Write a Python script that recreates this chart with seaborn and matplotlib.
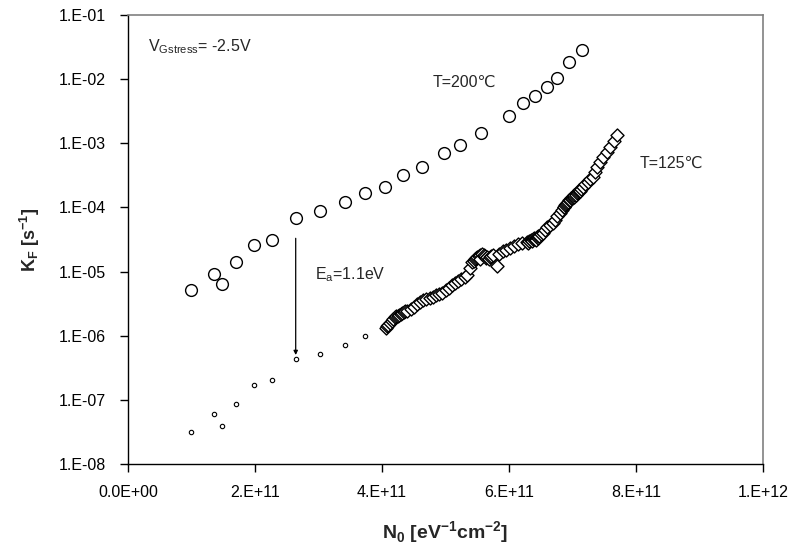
import numpy as np
import pandas as pd
import matplotlib
matplotlib.use("Agg")
import matplotlib.pyplot as plt
import seaborn as sns

# T = 200 C, measured (x in units of 1e11 eV^-1 cm^-2)
n0_200 = [0.987, 1.350, 1.485, 1.706, 1.984, 2.263, 2.641, 3.019, 3.417, 3.732,
          4.052, 4.335, 4.630, 4.976, 5.228, 5.554, 6.000, 6.225, 6.409, 6.603,
          6.751, 6.950, 7.154]
kf_200 = [5.13e-6, 9.2e-6, 6.43e-6, 1.39e-5, 2.63e-5, 3.15e-5, 6.89e-5, 8.67e-5,
          1.20e-4, 1.65e-4, 2.05e-4, 3.23e-4, 4.30e-4, 7.03e-4, 9.27e-4, 1.46e-3,
          2.66e-3, 4.19e-3, 5.51e-3, 7.45e-3, 1.03e-2, 1.87e-2, 2.84e-2]

# extrapolated to 125 C with Ea = 1.1 eV
n0_ext = [0.987, 1.350, 1.485, 1.706, 1.984, 2.263, 2.641, 3.019, 3.417, 3.732]
kf_ext = [3.13e-8, 5.96e-8, 3.92e-8, 8.53e-8, 1.69e-7, 2.02e-7, 4.26e-7, 5.28e-7,
          7.29e-7, 9.93e-7]

# T = 125 C, measured
n0_125 = [4.06, 4.08, 4.10, 4.12, 4.15, 4.17, 4.20, 4.22, 4.25, 4.27, 4.30, 4.32,
          4.35, 4.37, 4.40, 4.45, 4.50, 4.55, 4.60, 4.65, 4.70, 4.75, 4.80, 4.85,
          4.90, 4.95, 5.00, 5.05, 5.10, 5.15, 5.20, 5.25, 5.30, 5.34, 5.38, 5.42,
          5.45, 5.46, 5.48, 5.50, 5.52, 5.54, 5.55, 5.57, 5.60, 5.62, 5.64, 5.66,
          5.68, 5.70, 5.72, 5.75, 5.81, 5.85, 5.91, 5.96, 6.02, 6.08, 6.14, 6.20,
          6.28, 6.30, 6.32, 6.34, 6.36, 6.37, 6.38, 6.40, 6.41, 6.42, 6.43, 6.44,
          6.45, 6.46, 6.48, 6.50, 6.54, 6.57, 6.60, 6.65, 6.69, 6.72, 6.76, 6.80,
          6.83, 6.86, 6.87, 6.88, 6.90, 6.91, 6.93, 6.94, 6.96, 6.97, 6.99, 7.01,
          7.02, 7.03, 7.05, 7.06, 7.07, 7.09, 7.10, 7.11, 7.12, 7.13, 7.17, 7.20,
          7.24, 7.28, 7.32, 7.36, 7.39, 7.44, 7.48, 7.54, 7.59, 7.65, 7.70]
kf_125 = [1.318e-6, 1.413e-6, 1.479e-6, 1.585e-6, 1.698e-6, 1.820e-6, 1.950e-6,
          1.995e-6, 2.042e-6, 2.089e-6, 2.188e-6, 2.291e-6, 2.344e-6, 2.399e-6,
          2.455e-6, 2.570e-6, 2.818e-6, 3.162e-6, 3.388e-6, 3.631e-6, 3.802e-6,
          3.890e-6, 4.074e-6, 4.266e-6, 4.467e-6, 4.677e-6, 5.129e-6, 5.495e-6,
          6.166e-6, 6.607e-6, 7.079e-6, 7.586e-6, 8.318e-6, 8.913e-6, 1.122e-5,
          1.413e-5, 1.479e-5, 1.585e-5, 1.622e-5, 1.698e-5, 1.738e-5, 1.820e-5,
          1.585e-5, 1.862e-5, 1.820e-5, 1.738e-5, 1.622e-5, 1.660e-5, 1.585e-5,
          1.698e-5, 1.738e-5, 1.820e-5, 1.230e-5, 1.905e-5, 2.089e-5, 2.188e-5,
          2.344e-5, 2.512e-5, 2.692e-5, 2.754e-5, 2.884e-5, 2.818e-5, 3.020e-5,
          3.090e-5, 3.162e-5, 3.020e-5, 3.236e-5, 3.311e-5, 3.236e-5, 3.388e-5,
          3.162e-5, 3.467e-5, 3.388e-5, 3.548e-5, 3.631e-5, 3.802e-5, 3.981e-5,
          4.467e-5, 4.898e-5, 5.370e-5, 5.754e-5, 6.457e-5, 7.244e-5, 8.128e-5,
          9.120e-5, 1.000e-4, 1.023e-4, 1.072e-4, 1.122e-4, 1.175e-4, 1.202e-4,
          1.288e-4, 1.318e-4, 1.380e-4, 1.413e-4, 1.445e-4, 1.479e-4, 1.549e-4,
          1.622e-4, 1.585e-4, 1.660e-4, 1.738e-4, 1.778e-4, 1.862e-4, 1.820e-4,
          1.950e-4, 2.089e-4, 2.291e-4, 2.512e-4, 2.754e-4, 2.951e-4, 3.631e-4,
          4.266e-4, 5.129e-4, 6.026e-4, 7.244e-4, 8.710e-4, 1.072e-3, 1.349e-3]

x_ticks = [0, 2e11, 4e11, 6e11, 8e11, 1e12]
x_ticklabels = ["0.0E+00", "2.E+11", "4.E+11", "6.E+11", "8.E+11", "1.E+12"]
y_ticks = [1e-8, 1e-7, 1e-6, 1e-5, 1e-4, 1e-3, 1e-2, 1e-1]
y_ticklabels = ["1.E-08", "1.E-07", "1.E-06", "1.E-05", "1.E-04", "1.E-03",
                "1.E-02", "1.E-01"]

df200 = pd.DataFrame({"n0": np.array(n0_200) * 1e11, "kf": kf_200})
dfext = pd.DataFrame({"n0": np.array(n0_ext) * 1e11, "kf": kf_ext})
df125 = pd.DataFrame({"n0": np.array(n0_125) * 1e11, "kf": kf_125})

sns.set_style("ticks")
plt.rcParams["font.family"] = ["Liberation Sans", "DejaVu Sans"]
plt.rcParams["mathtext.fontset"] = "custom"
plt.rcParams["mathtext.rm"] = "Liberation Sans"
plt.rcParams["mathtext.bf"] = "Liberation Sans:bold"

fig = plt.figure(figsize=(7.96, 5.52), dpi=100)
ax = fig.add_axes([128 / 796, 1 - 464 / 552, 635 / 796, 449 / 552])

sns.scatterplot(data=df125, x="n0", y="kf", marker="D", s=44, facecolor="white",
                edgecolor="black", linewidth=1.0, ax=ax, zorder=3)
sns.scatterplot(data=df200, x="n0", y="kf", marker="o", s=72, facecolor="white",
                edgecolor="black", linewidth=1.0, ax=ax, zorder=3)
sns.scatterplot(data=dfext, x="n0", y="kf", marker="o", s=10, facecolor="white",
                edgecolor="black", linewidth=0.8, ax=ax, zorder=3)

ax.set_yscale("log")
ax.set_xlim(0, 1e12)
ax.set_ylim(1e-8, 1e-1)
ax.set_xticks(x_ticks)
ax.set_xticklabels(x_ticklabels)
ax.set_yticks(y_ticks)
ax.set_yticklabels(y_ticklabels)
ax.minorticks_off()
ax.tick_params(axis="both", direction="out", length=6, width=1, labelsize=11.5,
               colors="black")
ax.tick_params(axis="y", pad=10)
ax.tick_params(axis="x", pad=9)

for side in ["left", "bottom"]:
    ax.spines[side].set_color("black")
    ax.spines[side].set_linewidth(1)
for side in ["top", "right"]:
    ax.spines[side].set_visible(True)
    ax.spines[side].set_color("#808080")
    ax.spines[side].set_linewidth(1.2)

ax.set_xlabel(r"N$_\mathbf{0}$ [eV$^\mathbf{-1}$cm$^\mathbf{-2}$]",
              fontsize=14, fontweight="bold", labelpad=14)
ax.set_ylabel(r"K$_\mathbf{F}$ [s$^\mathbf{-1}$]", fontsize=13,
              fontweight="bold", labelpad=12)

# arrow: activation-energy shift of one 200 C point
ax.annotate("", xy=(df200["n0"][6], 5.0e-7), xytext=(df200["n0"][6], 3.3e-5),
            arrowprops=dict(arrowstyle="-|>", color="black", lw=0.9,
                            mutation_scale=6, shrinkA=0, shrinkB=0))

ax.text(0.315e11, 3.17e-2, r"V$_{\mathregular{Gstress}}$= -2.5V", fontsize=11.5,
        va="center", ha="left")
ax.text(4.80e11, 9.0e-3, "T=200℃", fontsize=11.5, va="center", ha="left")
ax.text(8.06e11, 4.9e-4, "T=125℃", fontsize=11.5, va="center", ha="left")
ax.text(2.945e11, 8.8e-6, r"E$_{\mathregular{a}}$=1.1eV", fontsize=11.5,
        va="center", ha="left")

fig.savefig("out.png", dpi=100)
